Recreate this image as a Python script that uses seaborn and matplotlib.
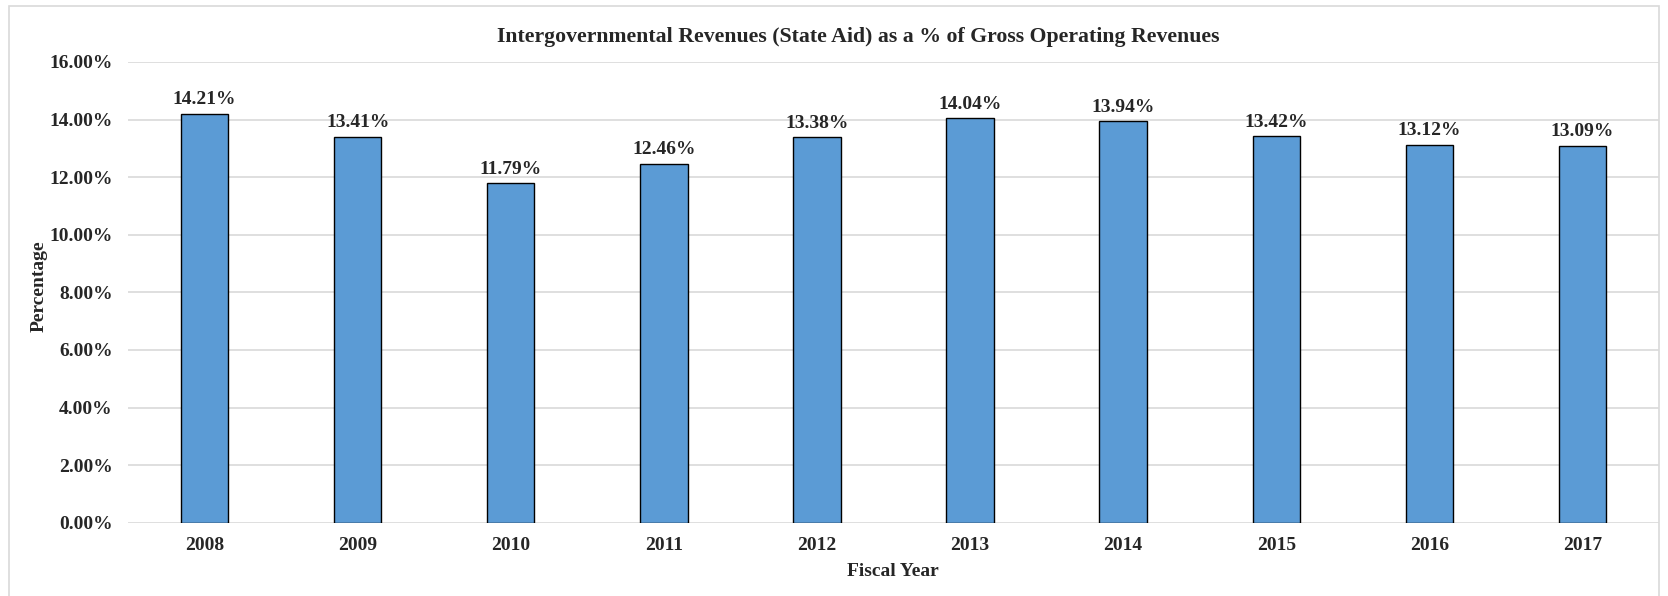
import matplotlib
matplotlib.use("Agg")
import matplotlib.pyplot as plt
import matplotlib.patches as mpatches
from matplotlib.ticker import FuncFormatter, MultipleLocator
import seaborn as sns
import pandas as pd

years = ["2008", "2009", "2010", "2011", "2012", "2013", "2014", "2015", "2016", "2017"]
state_aid_pct = [14.21, 13.41, 11.79, 12.46, 13.38, 14.04, 13.94, 13.42, 13.12, 13.09]

title = "Intergovernmental Revenues (State Aid) as a % of Gross Operating Revenues"
x_label = "Fiscal Year"
y_label = "Percentage"

sns.set_theme(style="white")
plt.rcParams["font.family"] = ["Liberation Serif", "DejaVu Serif"]
plt.rcParams["font.weight"] = "bold"

df = pd.DataFrame({"year": years, "pct": state_aid_pct})

W, H = 1668, 596
fig = plt.figure(figsize=(W / 100, H / 100), dpi=100)
ax = fig.add_axes([128 / W, 1 - 522.7 / H, 1531 / W, (522.7 - 62) / H])

sns.barplot(data=df, x="year", y="pct", ax=ax, color="#5B9BD5", width=0.31,
            edgecolor="black", linewidth=1.0, saturation=1, zorder=3)

ax.set_ylim(0, 16)
ax.set_xlim(-0.5, len(years) - 0.5)
ax.yaxis.set_major_locator(MultipleLocator(2))
ax.yaxis.set_major_formatter(FuncFormatter(lambda v, _: f"{v:.2f}%"))
ax.grid(axis="y", color="#d9d9d9", linewidth=1.2, zorder=0)
ax.set_axisbelow(True)
for s in ax.spines.values():
    s.set_visible(False)
ax.tick_params(axis="both", length=0, labelsize=14)
ax.tick_params(axis="y", pad=11)
ax.tick_params(axis="x", pad=10)
for lbl in ax.get_xticklabels() + ax.get_yticklabels():
    lbl.set_fontweight("bold")

ax.set_xlabel("")
ax.set_ylabel("")

for i, v in enumerate(state_aid_pct):
    ax.annotate(f"{v:.2f}%", (i, v), xytext=(0, 4), textcoords="offset points",
                ha="center", va="bottom", fontsize=14, fontweight="bold")

fig.text(858 / W, 1 - 37 / H, title, ha="center", va="center",
         fontsize=15.7, fontweight="bold")
fig.text(893 / W, 1 - 571 / H, x_label, ha="center", va="center",
         fontsize=14, fontweight="bold")
fig.text(39 / W, 1 - 286 / H, y_label, ha="center", va="center",
         rotation=90, fontsize=14, fontweight="bold")

# light outer frame of the chart area
frame = mpatches.Rectangle((9 / W, -0.05), (1659 - 9) / W, 1 - 6 / H + 0.05,
                           transform=fig.transFigure, fill=False,
                           edgecolor="#d9d9d9", linewidth=1.2)
fig.add_artist(frame)

fig.savefig("out.png", dpi=100)
